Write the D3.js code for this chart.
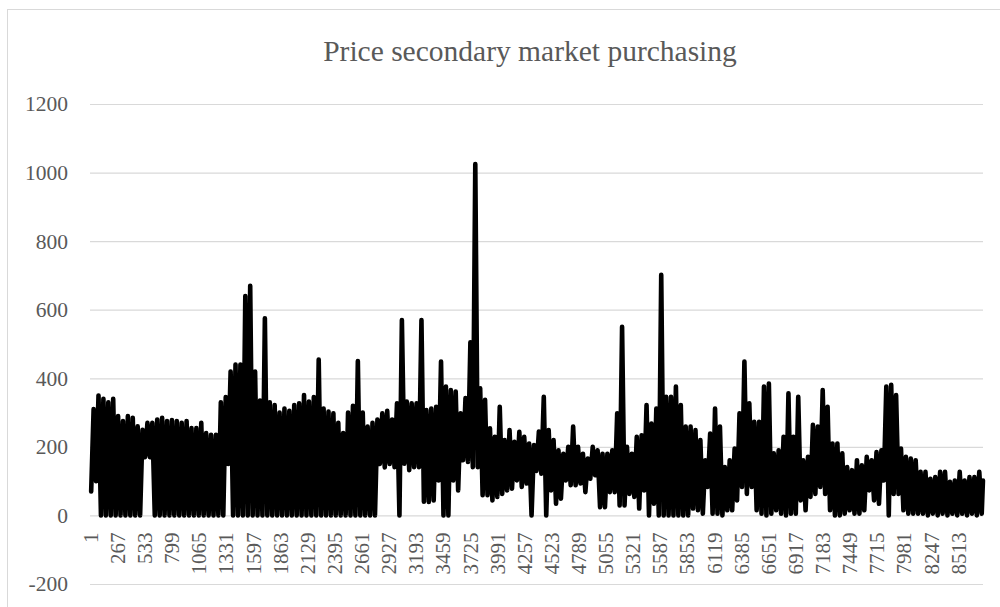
<!DOCTYPE html>
<html>
<head>
<meta charset="utf-8">
<script src="https://cdn.jsdelivr.net/npm/d3@7"></script>
<style>
  body { margin: 0; background: #fff; }
  svg { display: block; }
</style>
</head>
<body>
<svg id="chart" width="1000" height="607"></svg>
<script>
// Hourly purchase price over one year (8760 hours), summarised per 48-hour block:
// each block contributes its lowest and highest hourly price.
const chartTitle = "Price secondary market purchasing";
const hourCount = 8760;
const blockHours = 48;

const blockHigh = [
  310, 350, 340, 330, 340, 290, 275, 290, 285, 260,
  250, 270, 270, 280, 285, 275, 278, 275, 270, 275,
  255, 255, 270, 240, 235, 235, 330, 345, 420, 440,
  440, 640, 670, 420, 335, 575, 330, 322, 300, 312,
  305, 322, 327, 351, 332, 345, 455, 312, 303, 298,
  270, 240, 300, 320, 450, 300, 259, 270, 280, 298,
  305, 280, 327, 570, 332, 327, 327, 570, 307, 312,
  317, 449, 376, 366, 361, 298, 342, 505, 1025, 371,
  337, 254, 229, 317, 220, 249, 215, 244, 229, 210,
  205, 245, 346, 249, 220, 190, 180, 200, 259, 200,
  180, 166, 200, 190, 180, 180, 190, 298, 550, 200,
  180, 229, 234, 322, 268, 312, 702, 346, 346, 376,
  322, 259, 259, 249, 220, 161, 239, 312, 259, 141,
  161, 195, 298, 449, 327, 273, 273, 376, 385, 181,
  190, 229, 356, 229, 346, 161, 171, 264, 259, 366,
  317, 210, 210, 181, 141, 132, 161, 146, 171, 161,
  185, 190, 376, 381, 351, 195, 171, 166, 161, 127,
  127, 107, 112, 127, 127, 98, 102, 127, 102, 112,
  112, 127, 102
];

const blockLow = [
  70, 100, 0, 0, 0, 0, 0, 0, 0, 0,
  0, 170, 170, 0, 0, 0, 0, 0, 0, 0,
  0, 0, 0, 0, 0, 0, 0, 0, 150, 0,
  0, 0, 0, 0, 0, 0, 0, 0, 0, 0,
  0, 0, 0, 0, 0, 0, 0, 0, 0, 0,
  0, 0, 0, 0, 0, 0, 0, 0, 0, 150,
  140, 150, 141, 0, 151, 132, 141, 141, 40, 39,
  44, 102, 0, 0, 102, 73, 161, 156, 141, 141,
  59, 59, 44, 54, 63, 73, 78, 102, 83, 93,
  0, 130, 122, 0, 73, 34, 49, 102, 88, 88,
  93, 68, 107, 117, 24, 24, 68, 68, 29, 29,
  63, 54, 20, 73, 0, 34, 0, 0, 0, 0,
  0, 0, 0, 20, 15, 5, 83, 5, 5, 0,
  15, 15, 44, 83, 63, 83, 15, 5, 0, 5,
  15, 5, 0, 5, 5, 44, 15, 54, 63, 83,
  63, 15, 0, 0, 5, 15, 5, 5, 15, 73,
  44, 34, 102, 0, 63, 63, 15, 5, 5, 5,
  5, 0, 5, 0, 5, 0, 5, 0, 5, 0,
  5, 0, 5
];

const yTickValues = [-200, 0, 200, 400, 600, 800, 1000, 1200];
const xTickLabels = [
  "1", "267", "533", "799", "1065", "1331", "1597", "1863", "2129", "2395",
  "2661", "2927", "3193", "3459", "3725", "3991", "4257", "4523", "4789", "5055",
  "5321", "5587", "5853", "6119", "6385", "6651", "6917", "7183", "7449", "7715",
  "7981", "8247", "8513"
];

// Expand each block into its low and high hour, in time order.
const series = [];
blockHigh.forEach((hi, k) => {
  const start = k * blockHours;
  series.push({ hour: Math.min(start + 12, hourCount), price: blockLow[k] });
  series.push({ hour: Math.min(start + 36, hourCount), price: hi });
});

const font = "'Liberation Serif', 'DejaVu Serif', serif";
const textColor = "#595959";
const gridColor = "#d9d9d9";

const svg = d3.select("#chart");
const plot = { left: 90, right: 983, top: 104, bottom: 584 };

const x = d3.scaleLinear()
  .domain([0.5, hourCount + 0.5])
  .range([plot.left, plot.right]);
const y = d3.scaleLinear()
  .domain([-200, 1200])
  .range([plot.bottom, plot.top]);

// Chart frame
svg.append("rect")
  .attr("x", 7.5).attr("y", 9.5)
  .attr("width", 1010).attr("height", 620)
  .attr("fill", "#fff")
  .attr("stroke", gridColor)
  .attr("stroke-width", 1);

// Title
svg.append("text")
  .attr("x", 530).attr("y", 61)
  .attr("text-anchor", "middle")
  .attr("font-family", font)
  .attr("font-size", 29.5)
  .attr("fill", textColor)
  .text(chartTitle);

// Value axis with horizontal gridlines
const yAxis = svg.append("g")
  .attr("transform", `translate(${plot.left},0)`)
  .call(d3.axisLeft(y)
    .tickValues(yTickValues)
    .tickSizeInner(-(plot.right - plot.left))
    .tickSizeOuter(0)
    .tickPadding(22)
    .tickFormat(d => String(d)));
yAxis.select(".domain").remove();
yAxis.selectAll(".tick line")
  .attr("stroke", gridColor)
  .attr("stroke-width", 1.2);
yAxis.selectAll(".tick text")
  .attr("font-family", font)
  .attr("font-size", 21.5)
  .attr("fill", textColor);

// Price line
const line = d3.line()
  .x(d => x(d.hour))
  .y(d => y(d.price));

svg.append("path")
  .datum(series)
  .attr("d", line)
  .attr("fill", "none")
  .attr("stroke", "#000")
  .attr("stroke-width", 4.6)
  .attr("stroke-linejoin", "round")
  .attr("stroke-linecap", "round");

// Category axis: hour labels, rotated, hanging below the zero line
const xAxis = svg.append("g")
  .attr("transform", `translate(0,${y(0)})`)
  .call(d3.axisBottom(x)
    .tickValues(xTickLabels.map(Number))
    .tickSize(0)
    .tickFormat(d => String(d)));
xAxis.select(".domain").remove();
xAxis.selectAll(".tick text")
  .attr("transform", "rotate(-90)")
  .attr("x", -17)
  .attr("y", 0)
  .attr("dy", "0.35em")
  .attr("text-anchor", "end")
  .attr("font-family", font)
  .attr("font-size", 21)
  .attr("fill", textColor);
</script>
</body>
</html>
